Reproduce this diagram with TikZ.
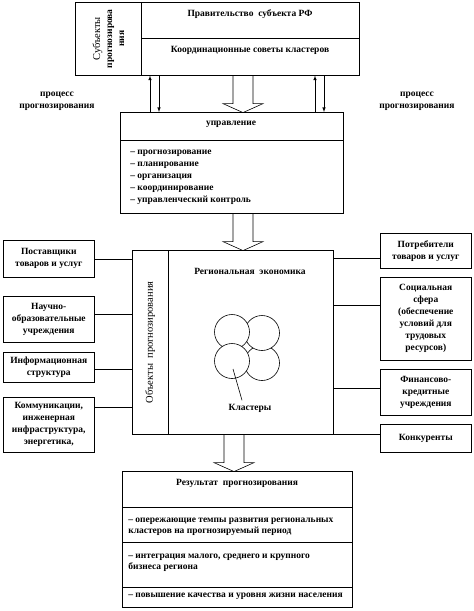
\documentclass[tikz,border=0pt]{standalone}
\usepackage{fontspec}
\setmainfont{Liberation Serif}
\usetikzlibrary{positioning}

\begin{document}
\begin{tikzpicture}[x=1pt, y=-1pt, line width=0.6pt,
    font=\bfseries\fontsize{9.5}{12}\selectfont]
\useasboundingbox (0,0) rectangle (474,611);
\tikzset{
  cell/.style={draw, anchor=north west, inner sep=0pt},
  side box/.style={cell, minimum width=91pt, align=center},
  item/.style={anchor=base west, inner sep=0pt},
  vlabel/.style={rotate=90, align=center, inner sep=0pt},
  hollow arrow/.pic={
    \draw (-10,0) -- (-10,#1) -- (-20,#1) -- (0,#1+9) -- (20,#1) -- (10,#1) -- (10,0);
  },
}

% subjects
\node[cell, minimum width=66pt, minimum height=73pt] (subj) at (75,2) {};
\node[cell, minimum width=218pt, minimum height=36pt] (prav) at (141,2) {};
\node[cell, minimum width=218pt, minimum height=37pt] (koord) at (141,38) {};
\node[vlabel] (subjt) at (subj.center)
  {{\mdseries\fontsize{10.5}{12}\selectfont Субъекты}\\прогнозирова\\ния};
\node (pravt) at (250,14) {Правительство\ \ субъекта РФ};
\node (koordt) at (250,50) {Координационные советы кластеров};

% management
\node[cell, minimum width=223pt, minimum height=28pt] (upr) at (120,112) {};
\node[cell, minimum width=223pt, minimum height=73pt] (funk) at (120,140) {};
\node (uprt) at (231,124) {управление};
\foreach[count=\k] \t in {прогнозирование, планирование, организация,
    координирование, управленческий контроль}
  \node[item] (f\k) at (130,142+12*\k) {-- \t};

\node[align=center] (procl) at (57,101) {процесс\\прогнозирования};
\node[align=center] (procr) at (417,101) {процесс\\прогнозирования};

\draw[-latex] (upr.north -| 150,0) -- (koord.south -| 150,0);
\draw[-latex] (koord.south -| 159,0) -- (upr.north -| 159,0);
\draw[-latex] (upr.north -| 315,0) -- (koord.south -| 315,0);
\draw[-latex] (koord.south -| 324,0) -- (upr.north -| 324,0);

\pic at (koord.south -| 243,0) {hollow arrow=28};
\pic at (funk.south -| 243,0) {hollow arrow=28};

% objects
\node[cell, minimum width=36pt, minimum height=184pt] (obj) at (132,250) {};
\node[cell, minimum width=165pt, minimum height=184pt] (econ) at (168,250) {};
\node[vlabel, font=\fontsize{10.5}{12}\selectfont] (objt) at (obj.center)
  {Объекты\ \ прогнозирования};
\node (econt) at (250,271) {Региональная\ \ экономика};

\foreach \p in {(262,363), (262,333), (232,332), (232,361)}
  \draw[fill=white] \p circle[radius=17.5];
\coordinate (cl) at (233,369);
\node (klast) at (250,408) {Кластеры};
\draw (cl) -- ([xshift=-8pt]klast.north);

% left
\node[side box, minimum height=37pt] (post) at (3,240) {Поставщики\\товаров и услуг};
\node[side box, minimum height=46pt] (nauch) at (3,296) {Научно-\\образовательные\\учреждения};
\node[side box, minimum height=30pt] (inform) at (3,352) {Информационная\\структура};
\node[side box, minimum height=55pt] (komm) at (3,397)
  {Коммуникации,\\инженерная\\инфраструктура,\\энергетика,};
\foreach \n/\y in {post/259, nauch/314, inform/369, komm/407}
  \draw (\n.east |- 0,\y) -- (obj.west |- 0,\y);

% right
\node[side box, minimum height=35pt] (potr) at (380,233) {Потребители\\товаров и услуг};
\node[side box, minimum height=83pt] (soc) at (380,277)
  {Социальная\\сфера\\(обеспечение\\условий для\\трудовых\\ресурсов)};
\node[side box, minimum height=46pt] (fin) at (380,369) {Финансово-\\кредитные\\учреждения};
\node[side box, minimum height=28pt] (konk) at (380,424) {Конкуренты};
\foreach \n/\y in {potr/258, soc/305, fin/388, konk/434}
  \draw (econ.east |- 0,\y) -- (\n.west |- 0,\y);

\pic at (econ.south -| 234,0) {hollow arrow=28};

% result
\node[cell, minimum width=230pt, minimum height=36pt] (res) at (122,471) {};
\node[cell, minimum width=230pt, minimum height=35pt] (res1) at (122,507) {};
\node[cell, minimum width=230pt, minimum height=45pt] (res2) at (122,542) {};
\node[cell, minimum width=230pt, minimum height=20pt] (res3) at (122,587) {};
\node (rest) at (237,483) {Результат\ \ прогнозирования};
\node[item] (r1a) at (128,522) {-- опережающие темпы развития региональных};
\node[item] (r1b) at (128,533) {кластеров на прогнозируемый период};
\node[item] (r2a) at (128,558) {-- интеграция малого, среднего и крупного};
\node[item] (r2b) at (128,569) {бизнеса региона};
\node[item] (r3) at (128,597) {-- повышение качества и уровня жизни населения};
%\draw[red] (0,0) rectangle (474,611);
\end{tikzpicture}
\end{document}
